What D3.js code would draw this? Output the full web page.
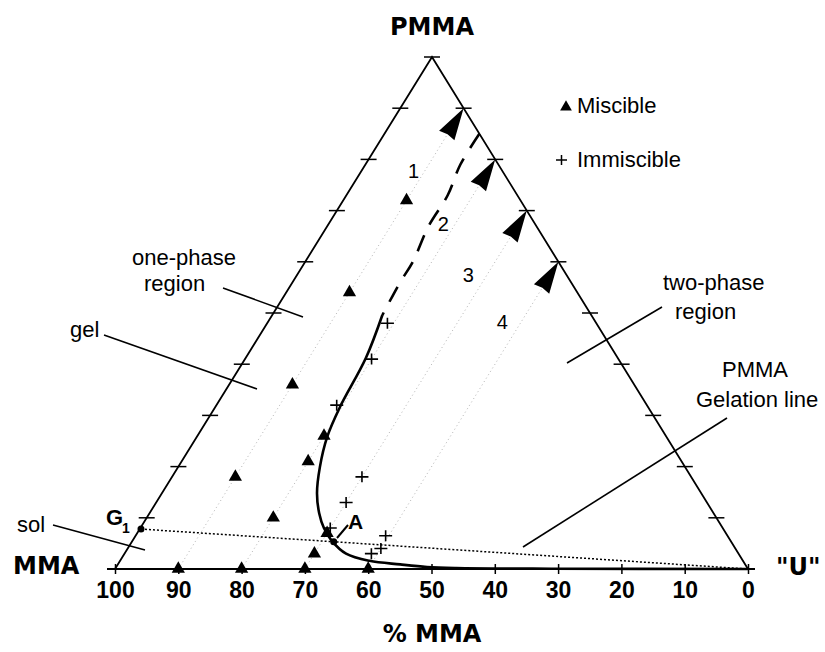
<!DOCTYPE html>
<html><head><meta charset="utf-8">
<script src="https://cdn.jsdelivr.net/npm/d3@7"></script>
<style>
body{margin:0;background:#fff}
svg{display:block}
text{font-family:"Liberation Sans",Arial,Helvetica,sans-serif;fill:#000}
.vx{font-family:"DejaVu Sans",sans-serif;font-weight:bold;font-size:24px}
.lbl{font-size:22px}
</style></head><body>
<svg id="chart" width="825" height="652"></svg>
<script>
// Compositions are [% MMA, % PMMA]; the remainder is % "U".
const mmaTicks = [100, 90, 80, 70, 60, 50, 40, 30, 20, 10, 0];
const edgeTicks = [10, 20, 30, 40, 50, 60, 70, 80, 90, 100];
const miscible = [[18,72],[36,54],[54,36],[54,26],[59,21],[72,18],[70,10],[63,7],[67,3],[90,0],[80,0],[70,0],[60,0]];
const immiscible = [[33,48],[39,41],[49,32],[52,18],[57,13],[62,8],[54,6.5],[56,4],[58,3]];
const boundaryDashed = [[0,85],[6,79],[11,73],[17,67],[23,60],[27,56],[33,49.6]];
const boundarySolid = [[33,49.6],[39.8,41.2],[48.7,31.6],[53.6,25.8],[57.7,19.9],[60.7,14.8],[62.3,10.9],[63,8],[63,5.5],[62,3],[59,1.6],[54.5,0.9],[50.5,0.4],[46,0.2],[31,0.06],[0,0]];
const gelPoint = [92, 7.8];      // G1 on the MMA–PMMA side
const pointA = [62.8, 5.3];      // A on the gelation line
const dilutionU = [10, 20, 30, 40];          // constant % "U" paths
const dilutionLabels = ["1", "2", "3", "4"];
const dilutionLabelPos = [[14.7,76.4],[15.2,66.0],[16.2,56.05],[15.4,46.9]];

const svg = d3.select("#chart");
const x = d3.scaleLinear().domain([100, 0]).range([115, 748]);   // % MMA along the base
const y = d3.scaleLinear().domain([0, 100]).range([569, 57]);    // % PMMA height
const apexX = 432;
const P = (m, p) => [x(m) + (p / 100) * (apexX - x(0)), y(p)];

// triangle sides
const vMMA = P(100, 0), vU = P(0, 0), vP = P(0, 100);
svg.append("path")
  .attr("d", `M${vMMA}L${vP}L${vU}`)
  .attr("fill", "none").attr("stroke", "#000").attr("stroke-width", 1.8);

// side ticks (horizontal dashes)
const sideTicks = [];
edgeTicks.forEach(p => { sideTicks.push(P(100 - p, p)); if (p < 100) sideTicks.push(P(0, p)); });
svg.append("g").selectAll("line").data(sideTicks).join("line")
  .attr("x1", d => d[0] - 8).attr("x2", d => d[0] + 8)
  .attr("y1", d => d[1]).attr("y2", d => d[1])
  .attr("stroke", "#000").attr("stroke-width", 1.5);

// base axis
const ax = svg.append("g").attr("transform", `translate(0,${y(0)})`)
  .call(d3.axisBottom(x).tickValues(mmaTicks).tickSizeOuter(0).tickFormat(d3.format("d")));
ax.select(".domain").attr("d", `M${x(100) - 8},0H${x(0) + 7}`).attr("stroke-width", 1.8);
ax.selectAll(".tick line").attr("y1", -5).attr("y2", 5).attr("stroke-width", 1.5);
ax.selectAll(".tick text").attr("y", 29).attr("dy", 0)
  .style("font-family", '"Liberation Sans",Arial,sans-serif').style("font-size", "23px").style("font-weight", "bold");

// dilution paths at constant % "U"
const dir = u => {
  const a = P(100 - u, 0), b = P(0, 100 - u);
  const L = Math.hypot(b[0] - a[0], b[1] - a[1]);
  return { a, b, ux: (b[0] - a[0]) / L, uy: (b[1] - a[1]) / L };
};
svg.append("g").selectAll("line").data(dilutionU).join("line")
  .each(function (u) {
    const d = dir(u);
    d3.select(this).attr("x1", d.a[0]).attr("y1", d.a[1]).attr("x2", d.b[0] - d.ux * 20).attr("y2", d.b[1] - d.uy * 20);
  })
  .attr("stroke", "#b4b4b4").attr("stroke-width", 1).attr("stroke-dasharray", "1,3");
svg.append("g").selectAll("path").data(dilutionU).join("path")
  .attr("d", u => {
    const d = dir(u), len = 32, hw = 9;
    const bx = d.b[0] - d.ux * len, by = d.b[1] - d.uy * len;
    const nx = -d.uy, ny = d.ux;
    return `M${d.b[0]},${d.b[1]}L${bx + nx * hw},${by + ny * hw}L${bx + d.ux * 1.5},${by + d.uy * 1.5}L${bx - nx * hw},${by - ny * hw}Z`;
  })
  .attr("fill", "#000");
svg.append("g").selectAll("text").data(dilutionLabels).join("text")
  .attr("x", (d, i) => P(...dilutionLabelPos[i])[0])
  .attr("y", (d, i) => P(...dilutionLabelPos[i])[1])
  .attr("text-anchor", "middle").style("font-size", "20px").text(d => d);

// PMMA gelation line G1 – "U"
svg.append("line")
  .attr("x1", P(...gelPoint)[0]).attr("y1", P(...gelPoint)[1])
  .attr("x2", vU[0]).attr("y2", vU[1])
  .attr("stroke", "#000").attr("stroke-width", 1.5).attr("stroke-dasharray", "2,2");

// phase boundary
const line = d3.line().x(d => P(...d)[0]).y(d => P(...d)[1]).curve(d3.curveCatmullRom.alpha(0.5));
svg.append("path").attr("d", line(boundaryDashed)).attr("fill", "none")
  .attr("stroke", "#000").attr("stroke-width", 2.6).attr("stroke-dasharray", "17,12");
svg.append("path").attr("d", line(boundarySolid)).attr("fill", "none")
  .attr("stroke", "#000").attr("stroke-width", 2.6);

// observations
const tri = d3.symbol(d3.symbolTriangle).size(76);
svg.append("g").selectAll("path").data(miscible).join("path")
  .attr("transform", d => `translate(${P(...d)})`).attr("d", tri).attr("fill", "#000");
svg.append("g").selectAll("path").data(immiscible).join("path")
  .attr("transform", d => `translate(${P(...d)})`)
  .attr("d", "M-6.5,0H6.5M0,-5.5V5.5").attr("stroke", "#000").attr("stroke-width", 1.6);

// G1 and A
[gelPoint, pointA].forEach(pt => svg.append("circle").attr("cx", P(...pt)[0]).attr("cy", P(...pt)[1]).attr("r", 3.5).attr("fill", "#000"));
const g1 = svg.append("text").attr("x", 106).attr("y", 525).style("font-size", "22px").style("font-weight", "bold");
g1.append("tspan").text("G");
g1.append("tspan").attr("x", 122).attr("y", 533).style("font-size", "14px").text("1");
svg.append("text").attr("x", 348).attr("y", 529).style("font-size", "21px").style("font-weight", "bold").text("A");
svg.append("line").attr("x1", 337).attr("y1", 538).attr("x2", 348).attr("y2", 525).attr("stroke", "#000").attr("stroke-width", 2);

// vertex and axis titles
svg.append("text").attr("class", "vx").attr("x", 432).attr("y", 35).attr("text-anchor", "middle").text("PMMA");
svg.append("text").attr("class", "vx").attr("x", 13).attr("y", 574).text("MMA");
svg.append("text").attr("class", "vx").attr("x", 776).attr("y", 575).text('"U"');
svg.append("text").attr("class", "vx").attr("x", 432).attr("y", 642).attr("text-anchor", "middle").text("% MMA");

// legend
svg.append("path").attr("transform", "translate(566,107)").attr("d", d3.symbol(d3.symbolTriangle).size(60)).attr("fill", "#000");
svg.append("text").attr("class", "lbl").attr("x", 577).attr("y", 113).text("Miscible");
svg.append("path").attr("d", "M556,160H567M561.5,155V165").attr("stroke", "#000").attr("stroke-width", 1.5);
svg.append("text").attr("class", "lbl").attr("x", 577).attr("y", 167).text("Immiscible");

// region annotations
const notes = [
  { t: "one-phase", x: 132, y: 265 }, { t: "region", x: 144, y: 291 },
  { t: "gel", x: 70, y: 337 }, { t: "sol", x: 17, y: 532 },
  { t: "two-phase", x: 663, y: 290 }, { t: "region", x: 675, y: 319 },
  { t: "PMMA", x: 722, y: 377 }, { t: "Gelation line", x: 696, y: 407 }
];
svg.append("g").selectAll("text").data(notes).join("text")
  .attr("class", "lbl").attr("x", d => d.x).attr("y", d => d.y).text(d => d.t);
const leaders = [[223,288,303,317],[104,335,257,389],[53,525,145,550],[662,307,567,363],[727,418,523,547]];
svg.append("g").selectAll("line").data(leaders).join("line")
  .attr("x1", d => d[0]).attr("y1", d => d[1]).attr("x2", d => d[2]).attr("y2", d => d[3])
  .attr("stroke", "#000").attr("stroke-width", 1.6);
</script>
</body></html>
